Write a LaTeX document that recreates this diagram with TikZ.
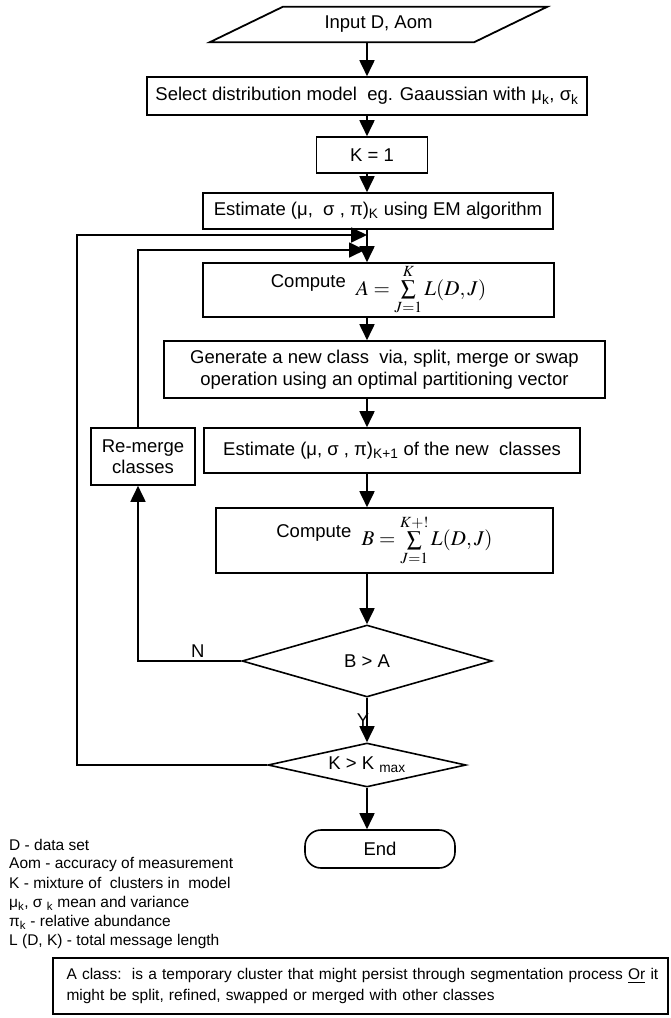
\documentclass[tikz,border=0pt]{standalone}
\usepackage{mathptmx}
\usepackage[no-math]{fontspec}
\setmainfont{Liberation Sans}
\usetikzlibrary{positioning}
\usetikzlibrary{arrows.meta}
\usetikzlibrary{shapes.geometric}
\tikzset{
        chartnode/.style={align=center,inner sep=0pt,font=\fontsize{18.5}{21.5}\selectfont},
        % Process boxes
        node_process/.style={chartnode, rectangle, draw=black, line width=1.6pt, fill=white},
        % Decision nodes
        node_decision/.style={chartnode, diamond, draw=black, line width=1.6pt, aspect=5},
        % Start and end nodes
        node_end/.style={chartnode, rectangle, rounded corners=16pt, draw=black, line width=1.6pt},
        % Legend and note
        node_legend/.style={anchor=west, inner sep=0pt, font=\fontsize{15.5}{18}\selectfont},
        node_note/.style={rectangle, draw=black, line width=1.2pt, align=left, inner sep=0pt, font=\fontsize{15.5}{21}\selectfont},
        % Connectors
        line_flow/.style={line width=1.8pt, black},
        line_arrow/.style={line_flow, -{Triangle[length=16pt,width=15pt]}}
}
\newcommand{\summath}[1]{{\fontsize{21}{24}\selectfont$#1$}}

\begin{document}
\begin{tikzpicture}[x=1pt, y=-1pt]
    \useasboundingbox (0,0) rectangle (671,1018);
    \coordinate (spine) at (367,0);

    % Input
    \node[chartnode, minimum width=264pt, minimum height=35pt] (input) at (378.5,24.5) {Input D, Aom};
    \draw[line_flow] ([xshift=36.5pt]input.north west) -- ([xshift=36.5pt]input.north east)
        -- ([xshift=-36.5pt]input.south east) -- ([xshift=-36.5pt]input.south west) -- cycle;

    % Main column
    \node[node_process, minimum width=440pt, minimum height=38pt] (select) at (367,96)
        {Select distribution model\ \ eg. Gaaussian with μ\textsubscript{k}, σ\textsubscript{k}};
    \node[node_process, minimum width=111pt, minimum height=36pt] (kone) at (372,155) {K = 1};
    \node[node_process, minimum width=350pt, minimum height=36pt] (estk) at (378,211)
        {Estimate (μ,\ \ σ , π)\textsubscript{K} using EM algorithm};
    \node[node_process, minimum width=351pt, minimum height=54pt] (compa) at (378.5,290)
        {\raisebox{8pt}{Compute}\ \ \summath{A=\sum\limits_{J=1}^{K}L(D,J)}};
    \node[node_process, minimum width=441pt, minimum height=57pt] (gen) at (384.5,369.5)
        {Generate a new class\ \ via, split, merge or swap\\operation using an optimal partitioning vector};
    \node[node_process, minimum width=376pt, minimum height=45pt] (estknew) at (392,450.5)
        {Estimate (μ, σ , π)\textsubscript{K+1} of the new\ \ classes};
    \node[node_process, minimum width=104pt, minimum height=57pt] (remerge) at (143,456.5)
        {Re-merge\\classes};
    \node[node_process, minimum width=337pt, minimum height=65pt] (compb) at (384.5,540.5)
        {\raisebox{8pt}{Compute}\ \ \summath{B=\sum\limits_{J=1}^{K+!}L(D,J)}};
    \node[node_decision, minimum width=250pt, minimum height=72pt] (testba) at (367,661) {B > A};
    \node[node_decision, minimum width=198pt, minimum height=44pt] (testk) at (367,765)
        {K > K \textsubscript{max}};
    \node[node_end, minimum width=150pt, minimum height=38pt] (finish) at (380,849) {End};

    % Forward flow
    \draw[line_arrow] ([xshift=-11.5pt]input.south) -- (select.north -| spine);
    \draw[line_arrow] (select.south -| spine) -- (kone.north -| spine);
    \draw[line_arrow] (kone.south -| spine) -- (estk.north -| spine);
    \draw[line_arrow] (estk.south -| spine) -- (compa.north -| spine);
    \draw[line_arrow] (compa.south -| spine) -- (gen.north -| spine);
    \draw[line_arrow] (gen.south -| spine) -- (estknew.north -| spine);
    \draw[line_arrow] (estknew.south -| spine) -- (compb.north -| spine);
    \draw[line_arrow] (compb.south -| spine) -- (testba.north);
    \draw[line_arrow] (testba.south) -- node[left, inner sep=0pt, xshift=3pt, chartnode] {Y} (testk.north);
    \draw[line_arrow] (testk.south) -- (finish.north -| spine);

    % Feedback loops
    \coordinate (loop_out) at (77,235);
    \coordinate (loop_in) at (138,250);
    \draw[line_arrow] (testk.west) -| (loop_out) -- (loop_out -| spine);
    \draw[line_arrow] (testba.west) -| node[pos=0.21, above=3pt, chartnode] {N} (remerge.south -| loop_in);
    \draw[line_arrow] (remerge.north -| loop_in) |- ([xshift=-2pt]loop_in -| spine);

    % Legend
    \foreach \ly/\ltxt [count=\li] in {845/{D - data set}, 864/{Aom - accuracy of measurement},
        883/{K - mixture of\ \ clusters in\ \ model}, 903/{μ\textsubscript{k}, σ \textsubscript{k} mean and variance},
        922/{π\textsubscript{k} - relative abundance}, 941/{L (D, K) - total message length}}
        \node[node_legend] (legend\li) at (9,\ly) {\ltxt};

    % Note
    \node[node_note, minimum width=615pt, minimum height=56pt, text width=588pt] (note) at (360.5,986)
        {\makebox[588pt][s]{A class:\ \ is a temporary cluster that might persist through segmentation process \underline{Or} it}\\
        might be split, refined, swapped or merged with other classes};
\end{tikzpicture}
\end{document}
